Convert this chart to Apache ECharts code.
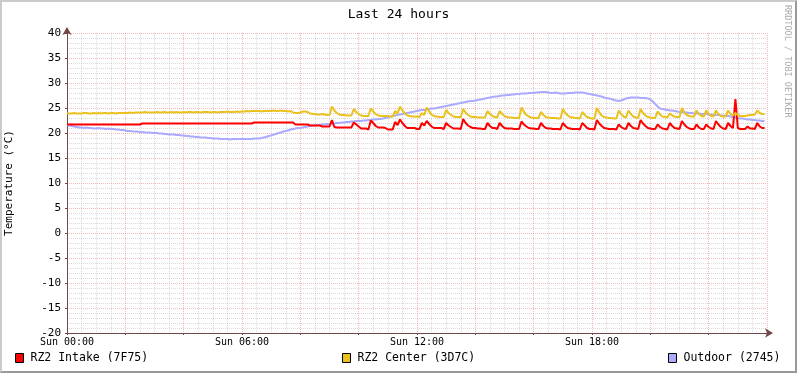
<!DOCTYPE html>
<html>
<head>
<meta charset="utf-8">
<title>Last 24 hours</title>
<script src="https://cdn.jsdelivr.net/npm/echarts@6/dist/echarts.min.js"></script>
<style>
  html, body { margin: 0; padding: 0; background: #fff; }
  #wrap { position: relative; width: 797px; height: 373px; }
  #chart { width: 797px; height: 373px; }
  #frame {
    position: absolute; left: 0; top: 0; width: 797px; height: 373px;
    box-sizing: border-box; pointer-events: none;
    border-top: 2px solid #cbcbcb; border-left: 2px solid #cbcbcb;
    border-right: 2px solid #999; border-bottom: 2px solid #999;
  }
</style>
</head>
<body>
<div id="wrap">
  <div id="chart"></div>
  <div id="frame"></div>
</div>
<script>
// samples every 5 minutes, one row = one hour
const STEP_MIN = 5

const intake = [
  21.7,21.7,21.7,21.7,21.7,21.7,21.7,21.7,21.7,21.7,21.7,21.7,
  21.7,21.7,21.7,21.7,21.7,21.7,21.7,21.7,21.7,21.7,21.7,21.7,
  21.7,21.7,21.7,21.7,21.7,21.7,21.7,21.9,21.9,21.9,21.9,21.9,
  21.9,21.9,21.9,21.9,21.9,21.9,21.9,21.9,21.9,21.9,21.9,21.9,
  21.9,21.9,21.9,21.9,21.9,21.9,21.9,21.9,21.9,21.9,21.9,21.9,
  21.9,21.9,21.9,21.9,21.9,21.9,21.9,21.9,21.9,21.9,21.9,21.9,
  21.9,21.9,21.9,21.9,21.9,22.1,22.1,22.1,22.1,22.1,22.1,22.1,
  22.1,22.1,22.1,22.1,22.1,22.1,22.1,22.1,22.1,22.1,21.7,21.7,
  21.7,21.7,21.7,21.7,21.5,21.5,21.5,21.5,21.5,21.3,21.3,21.3,
  21.3,22.6,21.2,21.1,21.1,21.1,21.1,21.1,21.1,21.1,22.1,21.7,
  21.3,20.9,20.9,20.9,20.7,22.5,22.0,21.4,21.1,21.1,21.1,21.0,
  20.7,20.7,20.7,22.2,21.6,22.7,22.0,21.4,21.0,21.0,21.0,21.0,
  20.8,20.8,22.0,21.5,22.4,21.8,21.3,21.0,21.0,21.0,21.0,20.8,
  22.0,21.5,21.2,20.9,20.9,20.9,20.8,22.8,22.0,21.5,21.2,21.0,
  21.0,20.9,20.9,20.8,20.8,22.0,21.4,21.0,21.0,20.8,22.0,21.4,
  21.0,20.9,20.9,20.9,20.8,20.8,20.8,22.3,21.7,21.3,21.0,20.9,
  20.9,20.8,20.8,22.0,21.4,21.0,20.9,20.9,20.8,20.8,20.8,20.7,
  22.0,21.4,21.0,20.9,20.8,20.8,20.8,20.7,22.0,21.5,21.0,20.8,
  20.8,20.7,22.6,21.9,21.4,21.0,20.9,20.8,20.8,20.8,20.7,21.7,
  21.2,20.9,20.8,22.0,21.4,21.0,20.9,20.8,22.6,21.9,21.4,21.0,
  20.9,20.8,20.8,21.7,21.2,20.9,20.8,20.7,22.0,21.4,21.0,20.9,
  20.8,22.4,21.7,21.2,20.9,20.8,20.8,21.7,21.1,20.8,20.8,21.7,
  21.2,20.9,20.8,22.4,21.7,21.2,20.9,20.8,22.0,21.4,21.0,26.8,
  21.0,20.8,20.8,20.8,21.3,20.9,20.9,20.8,22.0,21.3,21.0,21.0
]

const center = [
  23.9,23.9,23.9,24.0,23.9,23.9,23.9,24.0,24.0,23.9,23.9,24.0,
  23.9,24.0,23.9,24.0,24.0,23.9,24.0,24.0,23.9,24.0,24.0,24.0,
  24.0,24.0,24.1,24.0,24.1,24.1,24.1,24.1,24.2,24.1,24.1,24.1,
  24.1,24.2,24.1,24.1,24.2,24.1,24.1,24.2,24.1,24.2,24.1,24.1,
  24.2,24.1,24.2,24.2,24.1,24.2,24.2,24.1,24.2,24.2,24.2,24.1,
  24.2,24.2,24.1,24.2,24.2,24.2,24.3,24.2,24.2,24.2,24.3,24.2,
  24.3,24.3,24.4,24.3,24.4,24.4,24.4,24.4,24.3,24.4,24.4,24.4,
  24.4,24.5,24.4,24.4,24.5,24.4,24.4,24.3,24.4,24.1,24.0,24.0,
  24.1,24.3,24.3,24.2,23.9,23.8,23.8,23.7,23.7,23.8,23.7,23.6,
  23.6,25.3,24.5,24.0,23.7,23.6,23.6,23.5,23.5,23.5,24.8,24.2,
  23.8,23.5,23.4,23.4,23.4,24.9,24.3,23.8,23.5,23.4,23.4,23.4,
  23.4,23.3,23.3,24.4,23.9,25.3,24.5,23.9,23.5,23.4,23.3,23.3,
  23.3,23.2,24.0,23.6,25.1,24.3,23.7,23.4,23.3,23.2,23.2,23.2,
  24.6,24.0,23.6,23.3,23.2,23.2,23.2,24.8,24.1,23.6,23.3,23.2,
  23.2,23.1,23.1,23.1,23.1,24.4,23.8,23.4,23.2,23.1,24.4,23.8,
  23.4,23.2,23.1,23.1,23.0,23.0,23.0,25.1,24.2,23.6,23.3,23.1,
  23.0,23.0,23.0,24.2,23.6,23.2,23.1,23.0,23.0,23.0,22.9,22.9,
  24.8,24.0,23.5,23.2,23.1,23.0,23.0,22.9,24.2,23.6,23.2,23.0,
  22.9,22.9,25.0,24.1,23.5,23.2,23.1,23.0,23.0,22.9,22.9,24.5,
  23.8,23.3,23.1,24.5,23.8,23.3,23.1,23.0,24.8,24.0,23.5,23.2,
  23.1,23.0,23.0,24.3,23.7,23.3,23.2,23.1,23.9,23.5,23.3,23.2,
  23.2,25.0,24.1,23.6,23.4,23.3,23.3,24.5,23.8,23.4,23.3,24.5,
  23.8,23.4,23.3,24.5,23.8,23.4,23.3,23.3,24.5,23.8,23.5,24.0,
  23.6,23.4,23.4,23.4,23.5,23.6,23.6,23.7,24.5,24.0,23.8,23.8
]

const outdoor = [
  21.6,21.5,21.4,21.3,21.2,21.1,21.1,21.0,21.1,21.0,21.0,20.9,
  20.9,21.0,20.9,20.9,20.8,20.9,20.8,20.8,20.7,20.7,20.6,20.6,
  20.5,20.4,20.4,20.3,20.3,20.3,20.2,20.2,20.1,20.1,20.1,20.0,
  20.0,20.0,19.9,19.9,19.8,19.8,19.7,19.7,19.7,19.6,19.6,19.5,
  19.5,19.4,19.4,19.3,19.3,19.2,19.2,19.1,19.1,19.1,19.0,19.0,
  18.9,18.9,18.9,18.8,18.8,18.8,18.8,18.7,18.8,18.8,18.8,18.8,
  18.8,18.8,18.8,18.8,18.8,18.9,18.9,18.9,19.0,19.1,19.2,19.4,
  19.5,19.7,19.8,20.0,20.1,20.3,20.4,20.5,20.7,20.8,20.9,21.0,
  21.0,21.1,21.2,21.3,21.4,21.5,21.5,21.6,21.6,21.7,21.7,21.8,
  21.8,21.9,21.9,22.0,22.0,22.1,22.1,22.2,22.2,22.3,22.3,22.4,
  22.4,22.4,22.5,22.5,22.6,22.6,22.7,22.7,22.8,22.8,22.9,23.0,
  23.1,23.3,23.4,23.5,23.6,23.7,23.8,23.9,24.0,24.1,24.2,24.3,
  24.4,24.5,24.6,24.6,24.7,24.8,24.9,24.9,25.0,25.1,25.2,25.3,
  25.4,25.5,25.6,25.7,25.8,25.9,26.0,26.1,26.2,26.3,26.4,26.4,
  26.5,26.6,26.7,26.8,26.9,27.0,27.1,27.2,27.3,27.3,27.4,27.5,
  27.5,27.6,27.6,27.7,27.7,27.8,27.8,27.9,27.9,27.9,28.0,28.0,
  28.0,28.1,28.1,28.2,28.2,28.2,28.1,28.0,28.0,28.1,28.0,27.9,
  27.9,27.9,28.0,28.0,28.0,28.1,28.1,28.1,28.1,28.0,27.9,27.8,
  27.7,27.6,27.5,27.4,27.3,27.1,27.0,26.9,26.8,26.6,26.5,26.4,
  26.5,26.7,26.9,27.0,27.1,27.1,27.1,27.1,27.0,27.0,27.0,26.9,
  26.7,26.3,25.8,25.3,24.9,24.8,24.7,24.6,24.5,24.5,24.4,24.3,
  24.2,24.2,24.1,24.1,24.0,24.0,23.9,23.9,23.9,23.8,23.8,23.8,
  23.7,23.7,23.6,23.6,23.6,23.5,23.5,23.4,23.4,23.3,23.2,23.1,
  23.0,22.9,22.9,22.8,22.7,22.7,22.6,22.6,22.5,22.5,22.4,22.4
]

const timeLabels = ['Sun 00:00', 'Sun 06:00', 'Sun 12:00', 'Sun 18:00']
const legendNames = ['RZ2 Intake (7F75)', 'RZ2 Center (3D7C)', 'Outdoor (2745)']
const colors = ['#ff0000', '#eac11f', '#aaaaff']

const FONT = '"DejaVu Sans Mono", monospace'
const AXIS = '#704848'
const MGRID = 'rgba(230, 80, 80, 0.4)'
const GRID = 'rgba(150, 150, 150, 0.35)'

const hours = intake.map((v, i) => i * STEP_MIN / 60)
const toPairs = arr => arr.map((v, i) => [hours[i], v])

// outdoor drawn first so the indoor lines sit on top
const lines = [
  { name: legendNames[2], data: outdoor, color: colors[2] },
  { name: legendNames[0], data: intake, color: colors[0] },
  { name: legendNames[1], data: center, color: colors[1] }
]

const legendLeft = [15, 342, 668]

const chart = echarts.init(document.getElementById('chart'))
const option = {
  animation: false,
  backgroundColor: '#fff',
  title: {
    text: 'Last 24 hours',
    left: 'center',
    top: 3,
    textStyle: { fontFamily: FONT, fontSize: 13, fontWeight: 'normal', color: '#000' }
  },
  legend: legendNames.map((n, i) => ({
    data: [n],
    left: legendLeft[i],
    top: 352,
    padding: 0,
    icon: 'rect',
    itemWidth: 8,
    itemHeight: 9,
    selectedMode: false,
    itemStyle: { borderColor: '#000', borderWidth: 1 },
    textStyle: { fontFamily: FONT, fontSize: 11.5, color: '#000', padding: [0, 0, 0, 2] }
  })),
  grid: { left: 67, right: 30, top: 33, bottom: 40, containLabel: false, outerBoundsMode: 'none' },
  xAxis: {
    type: 'value',
    min: 0,
    max: 24,
    interval: 2,
    axisLine: {
      onZero: false,
      lineStyle: { color: AXIS, width: 1 },
      symbol: ['none', 'arrow'],
      symbolSize: [7, 8],
      symbolOffset: [0, 6]
    },
    axisTick: { show: true, length: 2, lineStyle: { color: AXIS } },
    axisLabel: {
      margin: 4,
      fontFamily: FONT,
      fontSize: 10,
      color: '#000',
      formatter: v => (v % 6 === 0 && v < 24) ? timeLabels[v / 6] : ''
    },
    splitLine: { show: true, lineStyle: { color: MGRID, type: [1, 1] } },
    minorTick: { show: false, splitNumber: 4 },
    minorSplitLine: { show: true, lineStyle: { color: GRID, type: [1, 1] } }
  },
  yAxis: {
    type: 'value',
    min: -20,
    max: 40,
    interval: 5,
    name: 'Temperature (°C)',
    nameLocation: 'middle',
    nameGap: 52,
    nameTextStyle: { fontFamily: FONT, fontSize: 11, color: '#000' },
    axisLine: {
      show: true,
      lineStyle: { color: AXIS, width: 1 },
      symbol: ['none', 'arrow'],
      symbolSize: [7, 8],
      symbolOffset: [0, 6]
    },
    axisTick: { show: true, length: 2, lineStyle: { color: AXIS } },
    axisLabel: { margin: 6, fontFamily: FONT, fontSize: 11, color: '#000' },
    splitLine: { show: true, lineStyle: { color: MGRID, type: [1, 1] } },
    minorTick: { show: false, splitNumber: 5 },
    minorSplitLine: { show: true, lineStyle: { color: GRID, type: [1, 1] } }
  },
  graphic: [{
    type: 'text',
    x: 787,
    y: 5,
    rotation: -Math.PI / 2,
    silent: true,
    style: {
      text: 'RRDTOOL / TOBI OETIKER',
      fill: '#aaa',
      font: '8.5px ' + FONT,
      align: 'left',
      verticalAlign: 'middle'
    }
  }],
  series: lines.map(s => ({
    name: s.name,
    type: 'line',
    data: toPairs(s.data),
    showSymbol: false,
    symbol: 'none',
    silent: true,
    color: s.color,
    lineStyle: { width: 2, color: s.color },
    itemStyle: { color: s.color }
  }))
}
chart.setOption(option)
</script>
</body>
</html>
